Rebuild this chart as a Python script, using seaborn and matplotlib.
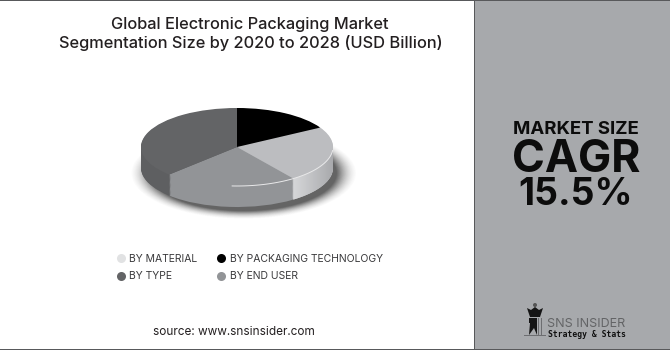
import numpy as np
import matplotlib
matplotlib.use("Agg")
import matplotlib.pyplot as plt
from matplotlib.lines import Line2D
from matplotlib.patches import Rectangle, Polygon, Circle
import seaborn as sns

# data
segments = ["BY PACKAGING TECHNOLOGY", "BY MATERIAL", "BY END USER", "BY TYPE"]
shares = [16.7, 23.3, 22.5, 37.5]
top_colors = ["#000000", "#bcbdc0", "#929497", "#636466"]
side_colors = ["#000000", "#c6c7c9", "#929497", "#5e5f61"]
legend_labels = ["BY MATERIAL", "BY TYPE", "BY PACKAGING TECHNOLOGY", "BY END USER"]
legend_colors = ["#e1e2e3", "#636466", "#000000", "#929497"]
title_lines = ["Global Electronic Packaging Market",
               "Segmentation Size by 2020 to 2028 (USD Billion)"]
source_text = "source: www.snsinsider.com"
side_texts = ["MARKET SIZE", "CAGR", "15.5%"]

sns.set_theme(style="white")
plt.rcParams["font.family"] = ["Inter", "DejaVu Sans"]
ink = "#231f20"

W, H = 670, 350
fig = plt.figure(figsize=(W / 100, H / 100), dpi=100, facecolor="white")

# background axes in pixels
bg = fig.add_axes([0, 0, 1, 1])
bg.set_xlim(0, W)
bg.set_ylim(H, 0)
bg.axis("off")
bg.add_patch(Rectangle((474, 0), 196, 350, fc="#a7a9ac", ec="none"))
bg.add_patch(Rectangle((473.5, 0), 1.5, 350, fc="#58595b", ec="none"))
bg.add_patch(Rectangle((0, 0), 670, 1, fc="#58595b", ec="none"))
bg.add_patch(Rectangle((0, 349), 670, 1, fc="#58595b", ec="none"))

bg.text(249.5, 29, title_lines[0], ha="center", va="baseline", fontsize=11.8, color=ink, weight="medium")
bg.text(250.5, 48, title_lines[1], ha="center", va="baseline", fontsize=11.8, color=ink, weight="medium")
bg.text(234, 335, source_text, ha="center", va="baseline", fontsize=8.5, color=ink)

bg.text(575.5, 134, side_texts[0], ha="center", va="baseline", fontsize=13.4, color="#0c0c0c", weight="bold")
bg.text(576, 172, side_texts[1], ha="center", va="baseline", fontsize=32, color="#0c0c0c", weight="bold")
bg.text(575.5, 205, side_texts[2], ha="center", va="baseline", fontsize=27, color="#0c0c0c", weight="bold")

handles = [Line2D([], [], ls="", marker="o", ms=6.5, mfc=c, mec="none") for c in legend_colors]
bg.legend(handles, legend_labels, ncol=2, frameon=False, loc="upper left",
          bbox_to_anchor=(106 / W, 1 - 244.5 / H), fontsize=7.5, labelcolor="#3a3a3c",
          handlelength=1.0, handletextpad=0.35, columnspacing=1.75, labelspacing=0.72)

# logo
logo_dark = "#151515"
bg.add_patch(Circle((535, 305), 2, fc="#555555", ec="none"))
bg.add_patch(Polygon([(527, 308), (531, 310), (535, 307), (539, 310), (543, 308), (540, 317), (530, 317)],
                     fc=logo_dark, ec="none"))
bg.add_patch(Rectangle((529, 318), 8, 5, fc=logo_dark, ec="none"))
bg.add_patch(Polygon([(530, 323), (537, 323), (537, 335), (534, 328), (529, 335)], fc=logo_dark, ec="none"))
bg.add_patch(Rectangle((538, 318), 1.2, 17, fc="#6d6e71", ec="none"))
bg.add_patch(Rectangle((541, 318), 1.2, 17, fc="#6d6e71", ec="none"))
bg.add_patch(Rectangle((524, 334.5), 22, 1, fc="#6d6e71", ec="none"))
bg.text(547, 327, "SNS INSIDER", fontsize=9, color="#636466", va="baseline", ha="left")
bg.text(548, 337, "Strategy & Stats", fontsize=5.8, color="#111111", va="baseline", ha="left",
        family="DejaVu Sans Mono", weight="bold")

# pie axes: 96 px per x unit, 39 px per y unit
cx, cy, rx, ry = 237, 147, 96, 39
left, right, top, bottom = 105, 369, 90, 235
ax = fig.add_axes([left / W, 1 - bottom / H, (right - left) / W, (bottom - top) / H])
xlim = ((left - cx) / rx, (right - cx) / rx)
ylim = ((cy - bottom) / ry, (cy - top) / ry)
thick = 21 / ry

kw = dict(startangle=90, counterclock=False)

# soft shadow
for i in range(24):
    f = i / 23
    w, _ = ax.pie([1], colors=["black"], center=(0.07, -thick - 0.13), radius=1.17 - 0.20 * f, startangle=90)
    w[0].set_alpha(0.012 + 0.07 * f ** 2)
    w[0].set_linewidth(0)

# stacked layers make the rim
for k in np.linspace(thick, 0.02, 24):
    w, _ = ax.pie(shares, colors=side_colors, center=(0, -k), **kw)
    for p in w:
        p.set_linewidth(0)
        p.set_zorder(1)

# gradient on the rim of the light wedge
a0 = 90 - shares[0] * 3.6 - shares[1] * 3.6
a1 = 90 - shares[0] * 3.6
t = np.radians(np.linspace(a0, min(a1, 0), 50))
upper = np.c_[np.cos(t), np.sin(t)]
lower = upper[::-1] - [0, thick]
clip = Polygon(np.r_[upper, lower], transform=ax.transData, fc="none", ec="none")
ax.add_patch(clip)
grad = ax.imshow(np.linspace(0, 1, 64)[None, :], extent=(np.cos(t[0]), 1, -1 - thick, 0.2),
                 cmap=matplotlib.colors.LinearSegmentedColormap.from_list("rim", ["#d6d7d9", "#a9aaad"]),
                 aspect="auto", zorder=1.5)
grad.set_clip_path(clip)

# top face
w, _ = ax.pie(shares, colors=top_colors, **kw)
for p in w:
    p.set_linewidth(0)
    p.set_zorder(2)

# highlight along the front edge
t = np.radians(np.linspace(a0 - 39, -5, 60))
ax.plot(np.cos(t), np.sin(t), color="#e9e9ea", lw=0.7, zorder=3)

ax.set_aspect("auto")
ax.set_xlim(xlim)
ax.set_ylim(ylim)
ax.patch.set_alpha(0)

fig.savefig("out.png", dpi=100)
